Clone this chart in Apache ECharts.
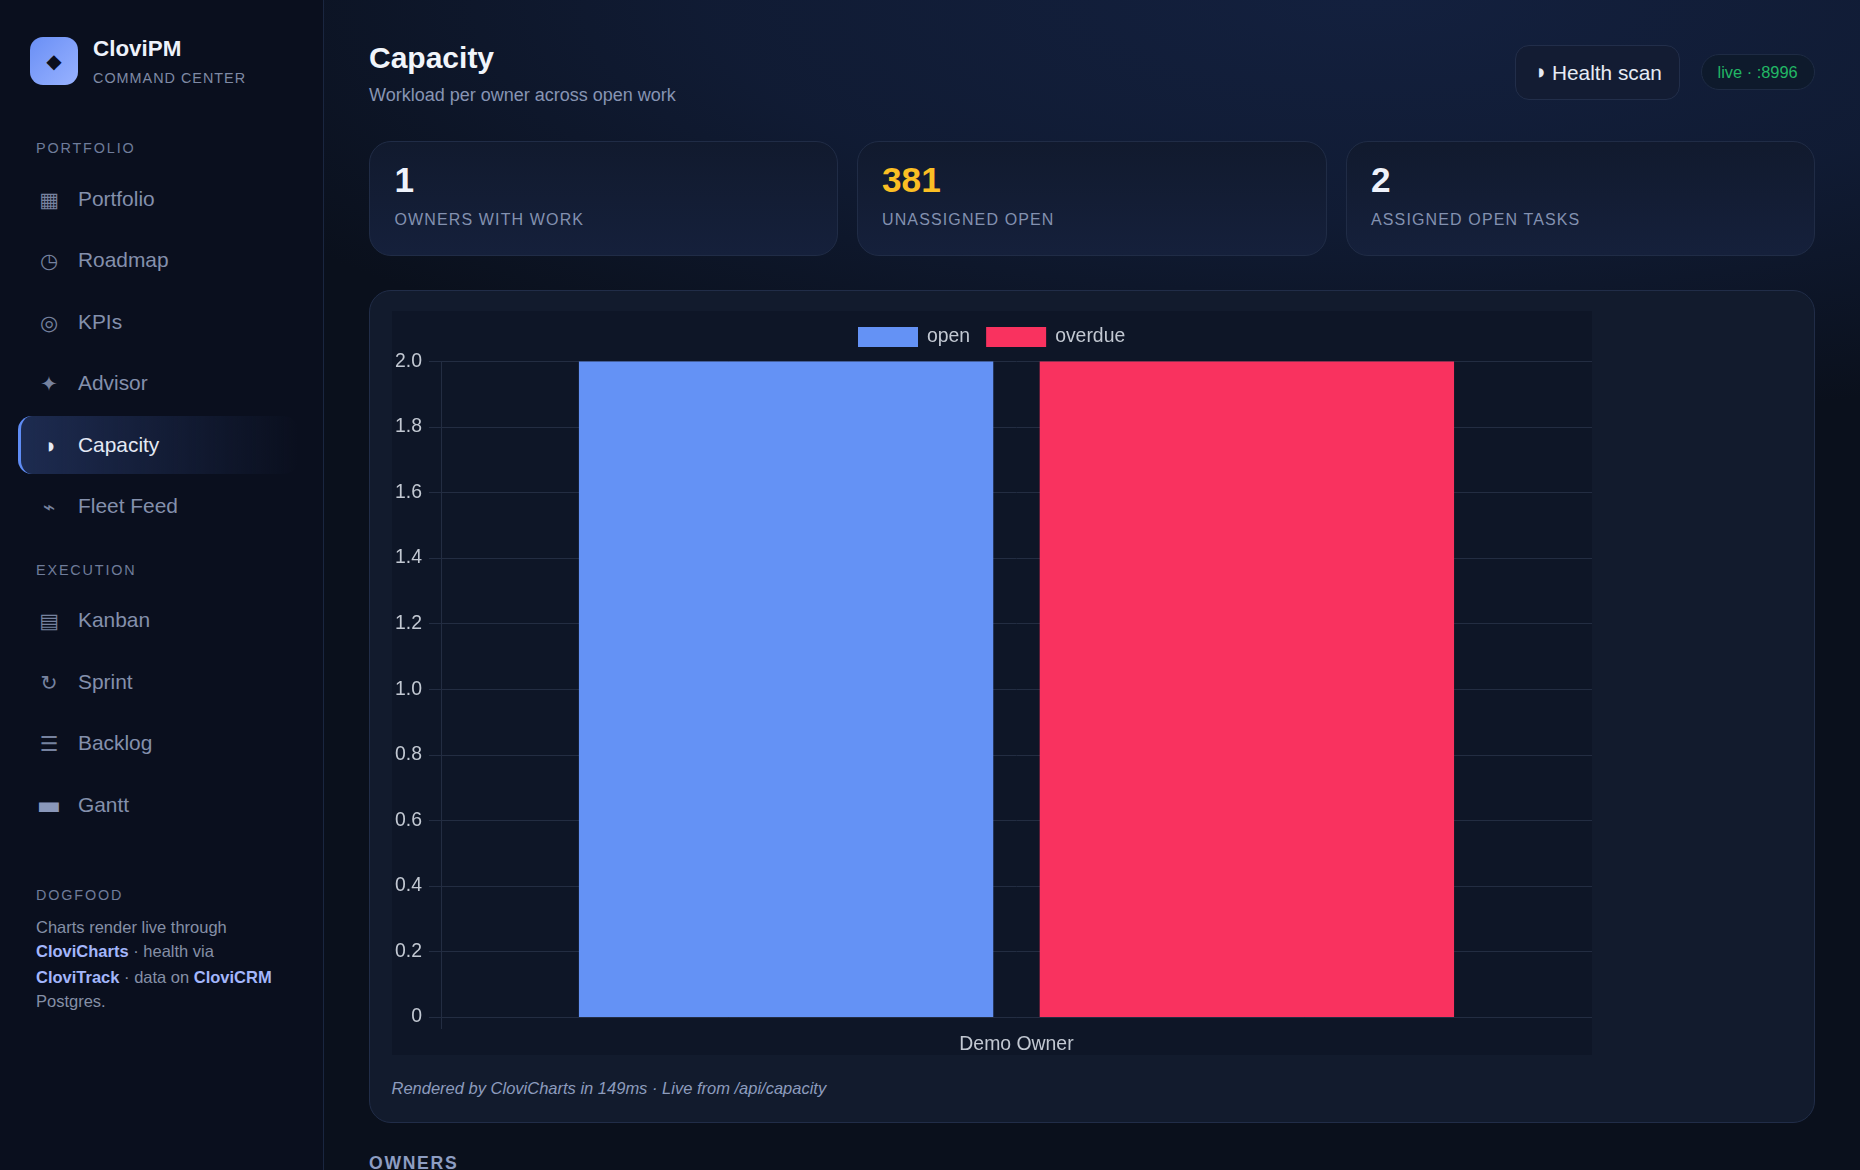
<!DOCTYPE html>
<html>
<head>
<meta charset="utf-8">
<title>CloviPM - Capacity</title>
<script src="https://cdn.jsdelivr.net/npm/echarts@6/dist/echarts.min.js"></script>
<style>
  * { box-sizing: border-box; }
  html, body { margin: 0; width: 1860px; height: 1170px; overflow: hidden; background: #0a0f1c; }
  body { position: relative; font-family: "Liberation Sans", Arial, sans-serif; color: #e6ebf5; }
  .abs { position: absolute; white-space: nowrap; line-height: 1; }
  #main-bg { position: absolute; left: 322px; top: 0; width: 1538px; height: 1170px;
    background: radial-gradient(ellipse 1300px 430px at 68% 0%, #13203e 0%, rgba(19,32,62,0.7) 50%, rgba(10,15,28,0) 100%), #0a101c; }
  #sidebar { position: absolute; left: 0; top: 0; width: 324px; height: 1170px; background: #0a0f1e; border-right: 1.5px solid #1a2640; }
  #logo { position: absolute; left: 30px; top: 37px; width: 48px; height: 48px; border-radius: 13px;
    background: linear-gradient(135deg, #6a8ff5, #98b2ff); color: #0a0f1e; font-size: 20px; line-height: 48px; text-align: center; font-family: "DejaVu Sans"; }
  .section { font-size: 14.4px; letter-spacing: 1.85px; color: #6f7c9a; }
  .nav { font-size: 20.9px; color: #8490ac; }
  .icon { font-family: "DejaVu Sans", sans-serif; font-size: 20.8px; color: #76829f; width: 40px; text-align: center; }
  #active { position: absolute; left: 18px; top: 415.5px; width: 280px; height: 58.5px; border-left: 3px solid #5f8cf5; border-radius: 14px;
    background: linear-gradient(90deg, #1d2b50, rgba(20,30,58,0)); }
  .dog { font-size: 16.5px; color: #858fa6; }
  .dog b { color: #a3b6fb; }
  .card { position: absolute; top: 141px; height: 115px; border-radius: 22px; border: 1.5px solid #202c46;
    background: linear-gradient(180deg, #111a2e, #15203b); }
  .card .val { position: absolute; left: 24.5px; top: 19.5px; font-size: 35.2px; font-weight: 700; line-height: 36px; color: #eef2fb; }
  .card .lab { position: absolute; left: 24.5px; top: 69px; font-size: 16px; line-height: 18px; letter-spacing: 1.13px; color: #8391b0; white-space: nowrap; }
  #panel { position: absolute; left: 369px; top: 290px; width: 1446px; height: 833px; border-radius: 22px; border: 1.5px solid #212d48; background: #121b2d; }
  #chart { position: absolute; left: 391.5px; top: 311px; width: 1200px; height: 744px; }
  #btn { position: absolute; left: 1515px; top: 45px; width: 165px; height: 55px; border-radius: 14px; border: 1.5px solid #222e4a; background: #131c33; }
  #pill { position: absolute; left: 1701px; top: 54px; width: 114px; height: 36px; border-radius: 18px; border: 1.5px solid #1e2b44; background: #0e1a2c; }
</style>
</head>
<body>
<div id="main-bg"></div>
<div id="sidebar"></div>
<div id="logo">◆</div>
<div class="abs" style="left:93px;top:38px;font-size:22.4px;font-weight:700;color:#eef2fb">CloviPM</div>
<div class="abs" style="left:93px;top:71px;font-size:14.4px;letter-spacing:1px;color:#7f8aa5">COMMAND CENTER</div>
<div id="active"></div>

<div class="abs" style="left:369px;top:43px;font-size:30px;font-weight:700;color:#f1f5fb">Capacity</div>
<div class="abs" style="left:369px;top:86px;font-size:18px;color:#8794b3">Workload per owner across open work</div>
<div id="btn"></div>
<div class="abs" style="left:1538px;top:66px;font-family:'DejaVu Sans';font-size:12px;color:#e6ebf5">◗</div>
<div class="abs" style="left:1552px;top:63px;font-size:20.8px;color:#e6ebf5">Health scan</div>
<div id="pill"></div>
<div class="abs" style="left:1717.5px;top:64px;font-size:16.4px;color:#22b765">live · :8996</div>

<div id="panel"></div>
<div id="chart"></div>
<div class="abs" style="left:391.5px;top:1080px;font-size:16.5px;font-style:italic;color:#8d9cbd">Rendered by CloviCharts in 149ms · Live from /api/capacity</div>
<div class="abs" style="left:369px;top:1155px;font-size:17.6px;font-weight:700;letter-spacing:1.7px;color:#8d9dc2">OWNERS</div>

<script>
// chart data
const categories = ['Demo Owner'];
const openValues = [2];
const overdueValues = [2];
const axisMax = 2;
const axisStep = 0.2;

// page content
const navTop = [['Portfolio', '▦', 200], ['Roadmap', '◷', 261], ['KPIs', '◎', 323], ['Advisor', '✦', 384], ['Capacity', '◗', 446], ['Fleet Feed', '⌁', 507]];
const navBottom = [['Kanban', '▤', 621], ['Sprint', '↻', 683], ['Backlog', '☰', 744], ['Gantt', '▬', 806]];
const sections = [['PORTFOLIO', 148], ['EXECUTION', 570], ['DOGFOOD', 895]];
const dogLines = [
  ['Charts render live through', 927],
  ['<b>CloviCharts</b> · health via', 951],
  ['<b>CloviTrack</b> · data on <b>CloviCRM</b>', 977],
  ['Postgres.', 1001],
];
const statValues = ['1', '381', '2'];
const statLabels = ['OWNERS WITH WORK', 'UNASSIGNED OPEN', 'ASSIGNED OPEN TASKS'];
const statLeft = [369, 856.5, 1345.5];
const statWidth = [469, 470.5, 469.5];
const statColor = ['#eef2fb', '#fbbf24', '#eef2fb'];

function addEl(className, style, html) {
  const el = document.createElement('div');
  el.className = className;
  el.style.cssText = style;
  el.innerHTML = html;
  document.body.appendChild(el);
  return el;
}

navTop.concat(navBottom).forEach(([name, icon, y]) => {
  const active = name === 'Capacity';
  let iconStyle = `left:29px;top:${y - 10}px;`;
  if (active) iconStyle = `left:31px;top:${y - 6}px;color:#e6ebf5;font-size:12px;`;
  if (name === 'Gantt') iconStyle = `left:29px;top:${y - 14}px;font-size:26px;color:#8a97ba;`;
  addEl('abs icon', iconStyle, icon);
  addEl('abs nav', `left:78px;top:${y - 11}px;` + (active ? 'color:#e4e9f4;' : ''), name);
});
sections.forEach(([name, y]) => addEl('abs section', `left:36px;top:${y - 7}px;`, name));
dogLines.forEach(([html, y]) => addEl('abs dog', `left:36px;top:${y - 8}px;`, html));
statValues.forEach((v, i) => {
  addEl('card', `left:${statLeft[i]}px;width:${statWidth[i]}px;`,
    `<div class="val" style="color:${statColor[i]}">${v}</div><div class="lab">${statLabels[i]}</div>`);
});

const labelColor = '#c2c8d2';
const lineColor = '#232d42';
const chart = echarts.init(document.getElementById('chart'));
chart.setOption({
  backgroundColor: '#0e1627',
  animation: false,
  textStyle: { fontFamily: '"Liberation Sans", Arial, sans-serif' },
  legend: {
    top: 16,
    left: 466,
    padding: 0,
    itemWidth: 60,
    itemHeight: 20,
    itemGap: 16,
    icon: 'rect',
    textStyle: { color: labelColor, fontSize: 19.4, padding: [0, 0, 7, 4] },
  },
  grid: { left: 48.5, right: 0, top: 50.5, bottom: 38 },
  xAxis: {
    type: 'category',
    data: categories,
    axisLine: { show: true, lineStyle: { color: lineColor } },
    axisTick: { show: true, length: 12, lineStyle: { color: lineColor } },
    axisLabel: { color: labelColor, fontSize: 19.4, margin: 18 },
  },
  yAxis: {
    type: 'value',
    min: 0,
    max: axisMax,
    interval: axisStep,
    axisLine: { show: true, lineStyle: { color: lineColor } },
    axisTick: { show: true, length: 12, lineStyle: { color: lineColor } },
    axisLabel: {
      color: labelColor,
      fontSize: 19.4,
      margin: 19,
      padding: [0, 0, 8, 0],
      formatter: (v) => (v === 0 ? '0' : v.toFixed(1)),
    },
    splitLine: { lineStyle: { color: lineColor } },
  },
  series: [
    { name: 'open', type: 'bar', data: openValues, barWidth: '36%', barGap: '11.2%', itemStyle: { color: '#6492f5' } },
    { name: 'overdue', type: 'bar', data: overdueValues, barWidth: '36%', itemStyle: { color: '#f9325f' } },
  ],
});
</script>
</body>
</html>
